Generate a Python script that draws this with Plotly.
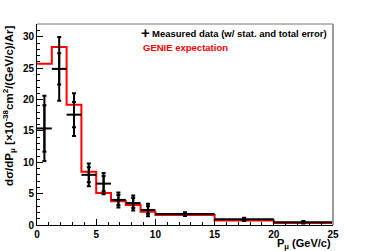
import plotly.graph_objects as go

bin_edges = [0, 1.25, 2.5, 3.75, 5, 6.25, 7.5, 8.75, 10, 15, 20, 25]
data_x = [0.625, 1.875, 3.125, 4.375, 5.625, 6.875, 8.125, 9.375, 12.5, 17.5, 22.5]
data_xerr = [0.625] * 8 + [2.5] * 3
data_y = [15.4, 24.9, 17.6, 8.0, 6.6, 4.0, 3.5, 2.4, 1.75, 0.9, 0.45]
stat_err = [3.7, 2.5, 2.0, 1.2, 1.2, 0.8, 0.8, 0.6, 0.15, 0.15, 0.1]
total_err = [5.2, 5.1, 3.4, 1.8, 1.7, 1.2, 1.2, 1.0, 0.3, 0.25, 0.2]
genie = [25.7, 28.4, 19.2, 8.5, 5.1, 3.8, 3.2, 2.1, 1.6, 0.7, 0.3]

FONT = "Liberation Sans"

fig = go.Figure()

# GENIE histogram (step)
fig.add_trace(go.Scatter(
    x=bin_edges, y=genie + [genie[-1]], mode="lines", line_shape="hv",
    line=dict(color="#ff0000", width=2), showlegend=False, hoverinfo="skip"))

# data with total error
fig.add_trace(go.Scatter(
    x=data_x, y=data_y, mode="markers",
    marker=dict(size=3, color="black"),
    error_x=dict(type="data", array=data_xerr, color="black", thickness=2, width=0),
    error_y=dict(type="data", array=total_err, color="black", thickness=2, width=2),
    showlegend=False))
# stat error ticks
fig.add_trace(go.Scatter(
    x=data_x, y=data_y, mode="markers",
    marker=dict(size=1, color="black"),
    error_y=dict(type="data", array=stat_err, color="black", thickness=2, width=2),
    showlegend=False))

axfont = dict(family=FONT, size=10, color="black", weight="bold")

fig.update_xaxes(
    range=[0, 25], tickvals=[0, 5, 10, 15, 20, 25], ticks="inside", ticklen=6,
    tickcolor="black", tickwidth=1, showgrid=False, zeroline=False,
    showline=True, linecolor="black", linewidth=1, tickfont=axfont,
    minor=dict(dtick=1, ticks="inside", ticklen=3, tickcolor="black", showgrid=False))
fig.update_yaxes(
    range=[0, 32.06], tickvals=[0, 5, 10, 15, 20, 25, 30], ticks="inside", ticklen=6,
    tickcolor="black", tickwidth=1, showgrid=False, zeroline=False,
    showline=True, linecolor="black", linewidth=1, tickfont=axfont,
    minor=dict(dtick=1, ticks="inside", ticklen=3, tickcolor="black", showgrid=False))

# frame top/right in gray
fig.add_shape(type="line", xref="paper", yref="paper", x0=0, x1=1, y0=1, y1=1,
              line=dict(color="#777777", width=1))
fig.add_shape(type="line", xref="paper", yref="paper", x0=1, x1=1, y0=0, y1=1,
              line=dict(color="#999999", width=2))

annots = [
    dict(text="dσ/dP<sub>μ</sub> [×10<sup>-38</sup>cm<sup>2</sup>/(GeV/c)/Ar]",
         x=-0.095, y=1.0, xref="paper", yref="paper", xanchor="center", yanchor="top",
         textangle=-90, showarrow=False,
         font=dict(family=FONT, size=11.5, color="black", weight="bold")),
    dict(text="P<sub>μ</sub> (GeV/c)", x=1.0, y=-0.05, xref="paper", yref="paper",
         xanchor="right", yanchor="top", showarrow=False,
         font=dict(family=FONT, size=11, color="black", weight="bold")),
    dict(text="Measured data (w/ stat. and total error)", x=0.382, y=0.953,
         xref="paper", yref="paper", xanchor="left", yanchor="middle", showarrow=False,
         font=dict(family=FONT, size=9.5, color="black", weight="bold")),
    dict(text="+", x=0.365, y=0.958, xref="paper", yref="paper", xanchor="center",
         yanchor="middle", showarrow=False,
         font=dict(family=FONT, size=15, color="black", weight="bold")),
    dict(text="GENIE expectation", x=0.351, y=0.885, xref="paper", yref="paper",
         xanchor="left", yanchor="middle", showarrow=False,
         font=dict(family=FONT, size=9.5, color="#ff0000", weight="bold")),
]
fig.update_layout(
    width=370, height=251, margin=dict(l=37, r=37, t=24, b=26),
    plot_bgcolor="white", paper_bgcolor="white", showlegend=False,
    annotations=annots)

fig.write_html("out.html", config={"displayModeBar": False},
               post_script="document.body.style.margin='0';document.body.style.overflow='hidden';")
